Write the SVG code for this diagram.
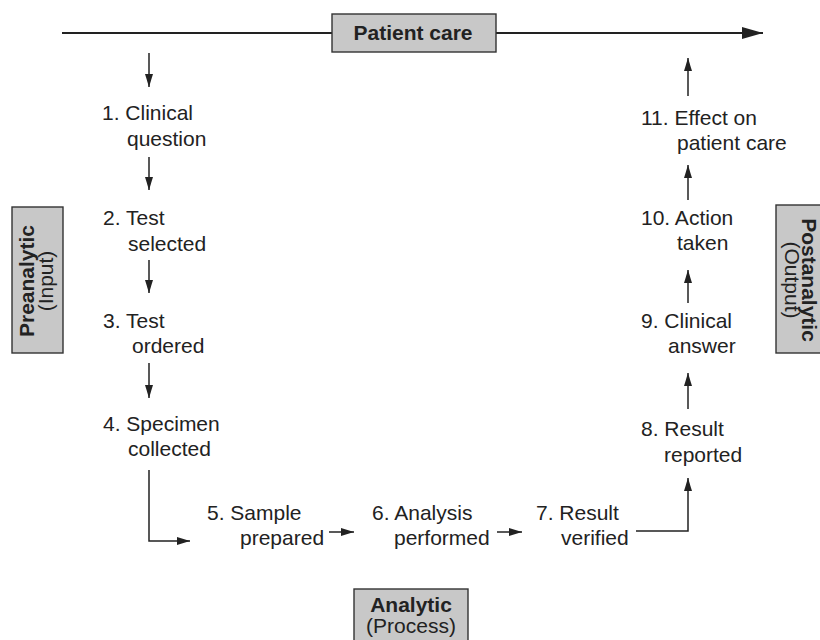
<svg xmlns="http://www.w3.org/2000/svg" width="820" height="640" viewBox="0 0 820 640">
<style>
.t{font-family:"Liberation Sans",Arial,sans-serif;font-size:21px;fill:#222}
.b{font-family:"Liberation Sans",Arial,sans-serif;font-size:21px;font-weight:bold;fill:#222}
.box{fill:#c8c8c8;stroke:#333;stroke-width:1.4}
.c{fill:none;stroke:#222;stroke-width:1.5}
</style>
<defs>
<marker id="ah" viewBox="0 0 13 8" refX="13" refY="4" markerWidth="13" markerHeight="8" markerUnits="userSpaceOnUse" orient="auto">
<path d="M0,0 L13,4 L0,8 Z" fill="#222"/>
</marker>
<marker id="ahb" viewBox="0 0 21 12" refX="21" refY="6" markerWidth="21" markerHeight="12" markerUnits="userSpaceOnUse" orient="auto">
<path d="M0,0 L21,6 L0,12 Z" fill="#222"/>
</marker>
</defs>
<g id="connectors">
<line class="c" x1="62" y1="33" x2="332" y2="33" style="stroke-width:2"/>
<line class="c" x1="496" y1="33" x2="763" y2="33" style="stroke-width:2" marker-end="url(#ahb)"/>
<line class="c" x1="149" y1="53" x2="149" y2="87" marker-end="url(#ah)"/>
<line class="c" x1="149" y1="157" x2="149" y2="190" marker-end="url(#ah)"/>
<line class="c" x1="149" y1="260" x2="149" y2="293" marker-end="url(#ah)"/>
<line class="c" x1="149" y1="363" x2="149" y2="398" marker-end="url(#ah)"/>
<polyline class="c" points="149,470 149,541 190,541" marker-end="url(#ah)"/>
<line class="c" x1="329" y1="532" x2="354" y2="532" marker-end="url(#ah)"/>
<line class="c" x1="497" y1="532" x2="522" y2="532" marker-end="url(#ah)"/>
<polyline class="c" points="636,531 688,531 688,478" marker-end="url(#ah)"/>
<line class="c" x1="688" y1="409" x2="688" y2="373" marker-end="url(#ah)"/>
<line class="c" x1="688" y1="303" x2="688" y2="270" marker-end="url(#ah)"/>
<line class="c" x1="688" y1="200" x2="688" y2="165" marker-end="url(#ah)"/>
<line class="c" x1="688" y1="96" x2="688" y2="58" marker-end="url(#ah)"/>
</g>
<g id="patient-care">
<rect class="box" x="332" y="14" width="164" height="38"/>
<text class="b" x="413" y="40" text-anchor="middle">Patient care</text>
</g>
<g id="preanalytic">
<rect class="box" x="12" y="207" width="51" height="146"/>
<text transform="translate(37,281) rotate(-90)" text-anchor="middle"><tspan class="b" x="0" y="-3">Preanalytic</tspan><tspan class="t" x="0" y="16">(Input)</tspan></text>
</g>
<g id="postanalytic">
<rect class="box" x="776" y="205" width="50" height="148"/>
<text transform="translate(799,280) rotate(90)" text-anchor="middle"><tspan class="b" x="0" y="-3">Postanalytic</tspan><tspan class="t" x="0" y="14">(Output)</tspan></text>
</g>
<g id="analytic">
<rect class="box" x="354" y="589" width="114" height="60"/>
<text class="b" x="411" y="612" text-anchor="middle">Analytic</text>
<text class="t" x="411" y="633" text-anchor="middle">(Process)</text>
</g>
<g id="n1"><text class="t" x="102" y="120">1. Clinical</text><text class="t" x="127" y="146">question</text></g>
<g id="n2"><text class="t" x="103" y="225">2. Test</text><text class="t" x="128" y="251">selected</text></g>
<g id="n3"><text class="t" x="103" y="328">3. Test</text><text class="t" x="132" y="353">ordered</text></g>
<g id="n4"><text class="t" x="103" y="431">4. Specimen</text><text class="t" x="128" y="456">collected</text></g>
<g id="n5"><text class="t" x="207" y="520">5. Sample</text><text class="t" x="240" y="545">prepared</text></g>
<g id="n6"><text class="t" x="372" y="520">6. Analysis</text><text class="t" x="394" y="545">performed</text></g>
<g id="n7"><text class="t" x="536" y="520">7. Result</text><text class="t" x="561" y="545">verified</text></g>
<g id="n8"><text class="t" x="641" y="436">8. Result</text><text class="t" x="664" y="462">reported</text></g>
<g id="n9"><text class="t" x="641" y="328">9. Clinical</text><text class="t" x="668" y="353">answer</text></g>
<g id="n10"><text class="t" x="641" y="225">10. Action</text><text class="t" x="677" y="250">taken</text></g>
<g id="n11"><text class="t" x="641" y="125">11. Effect on</text><text class="t" x="677" y="150">patient care</text></g>
</svg>
